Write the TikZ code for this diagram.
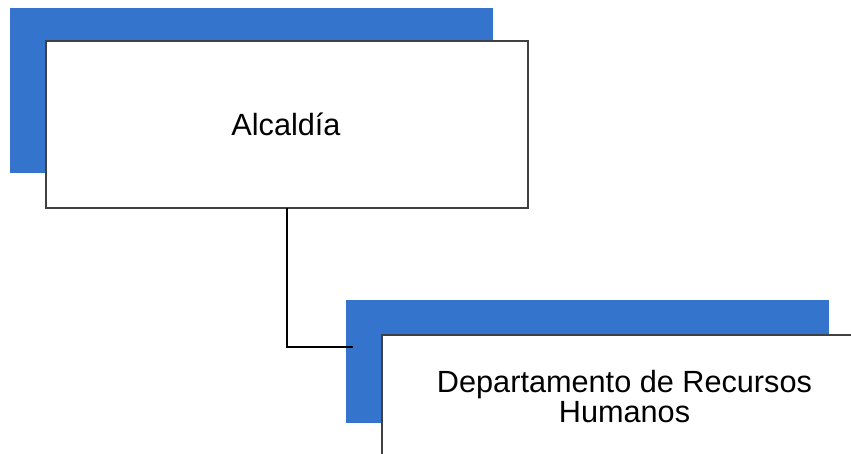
\documentclass[tikz,border=0pt]{standalone}
\usepackage{fontspec}
\setmainfont{Liberation Sans}
\usepackage{tikz}
\usetikzlibrary{positioning}
\definecolor{shadowblue}{RGB}{53,116,204}
\tikzset{shadowbox/.style = {fill = shadowblue, draw = none, anchor = north west,
                             inner sep = 0pt, outer sep = 0pt},
         unitbox/.style = {fill = white, draw = black!75, line width = 0.9pt,
                           anchor = north west, inner sep = 0pt, outer sep = 0pt,
                           minimum width = 361.5pt, minimum height = 125.25pt},
         unittext/.style = {font = \fontsize{23}{22.5}\selectfont, align = center},
         link/.style = {draw = black, line width = 1.7pt}}

\begin{document}
\begin{tikzpicture}[x = 0.75pt, y = -0.75pt]
      \useasboundingbox (0, 0) rectangle (851, 454);
      \clip (0, 0) rectangle (851, 454);
      \node [shadowbox, minimum width = 362.25pt, minimum height = 123.75pt] (alcShadow) at (10, 8) {};
      \node [unitbox] (alc) at (46, 41) {};
      \node [unittext] (alcText) at (286, 124.7) {Alcaldía};
      \node [shadowbox, minimum width = 362.25pt, minimum height = 92.25pt] (hrShadow) at (346, 300) {};
      \coordinate (hrIn) at (353, 347);
      \draw [link] (alc.south) |- (hrIn);
      \node [unitbox] (hr) at (382, 335) {};
      \node [unittext] (hrText) at (624.5, 397) {Departamento de Recursos\\Humanos};
\end{tikzpicture}
\end{document}
